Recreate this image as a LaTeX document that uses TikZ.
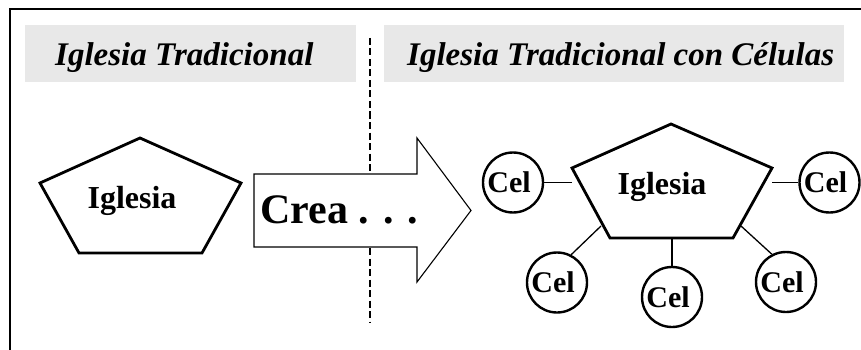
\documentclass[tikz,border=0pt]{standalone}
\usepackage{fontspec}
\setmainfont{Liberation Serif}
\definecolor{titlegray}{RGB}{232,232,232}
\tikzset{
  pent/.style={line width=2.8pt},
  cel/.style={circle,draw,line width=2.4pt,minimum size=60pt,inner sep=0pt,font=\bfseries\fontsize{30}{30}\selectfont},
  link/.style={line width=1.3pt},
  titletext/.style={anchor=base west,inner sep=0pt,font=\bfseries\itshape\fontsize{33}{40}\selectfont},
}
\begin{document}
\begin{tikzpicture}[x=1pt,y=-1pt]
\useasboundingbox (0,0) rectangle (861,350);
\draw[line width=1.5pt] (10,350) -- (10,9) -- (861,9);

\fill[titlegray] (25,25) rectangle (356,82);
\fill[titlegray] (384,25) rectangle (844,82);
\node[titletext] (titleA) at (55,66) {Iglesia Tradicional};
\node[titletext] (titleB) at (407,66) {Iglesia Tradicional con Células};

\draw[line width=1.4pt,dash pattern=on 7pt off 3.5pt] (370,38) -- (370,322);

\draw[pent] (140,138) -- (241,183) -- (202,253) -- (79,253) -- (40,183) -- cycle;
\node[anchor=base,inner sep=0pt,font=\bfseries\fontsize{32}{38}\selectfont] (iglA) at (132,208) {Iglesia};

\draw[line width=1.1pt,fill=white] (254,174) -- (417,174) -- (417,138) -- (471,210.5)
  -- (417,282) -- (417,247) -- (254,247) -- cycle;
\node[anchor=base west,inner sep=0pt,font=\bfseries\fontsize{42}{50}\selectfont] (crea) at (260,223) {Crea . . .};

\draw[pent] (671,124) -- (772,168) -- (733,238) -- (610,238) -- (572,168) -- cycle;
\node[anchor=base,inner sep=0pt,font=\bfseries\fontsize{32}{38}\selectfont] (iglB) at (662,194) {Iglesia};

\node[cel] (cel1) at (513,182.5) {Cel\hspace*{8pt}};
\node[cel] (cel2) at (829.5,182.5) {Cel\hspace*{8pt}};
\node[cel] (cel3) at (557,282.5) {Cel\hspace*{8pt}};
\node[cel] (cel4) at (672,297) {Cel\hspace*{8pt}};
\node[cel] (cel5) at (786,282) {Cel\hspace*{8pt}};

\coordinate (pL) at (572,182.5);
\coordinate (pR) at (772,182.5);
\coordinate (pBL) at (601,226);
\coordinate (pBC) at (672,238);
\coordinate (pBR) at (741,226);

\draw[link] (pL) -- (cel1);
\draw[link] (pR) -- (cel2);
\draw[link] (pBL) -- (cel3.63);
\draw[link] (pBC) -- (cel4);
\draw[link] (pBR) -- (cel5.117);
\end{tikzpicture}
\end{document}
